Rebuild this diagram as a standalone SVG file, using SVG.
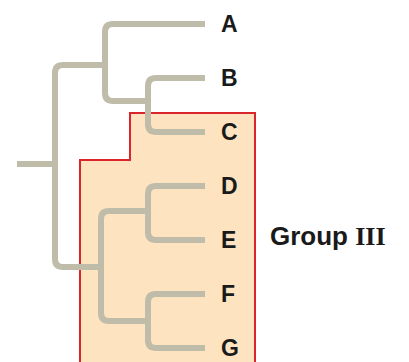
<svg xmlns="http://www.w3.org/2000/svg" width="409" height="362" viewBox="0 0 409 362">
<style>
.br{fill:none;stroke:#bfbcaa;stroke-width:6;stroke-linejoin:round}
.lb{font-family:"Liberation Sans",Arial,sans-serif;font-weight:bold;font-size:23px;fill:#1a1a1a}
.grp{font-family:"Liberation Sans",Arial,sans-serif;font-weight:bold;font-size:26px;fill:#1a1a1a}
</style>
<rect width="409" height="362" fill="#fff"/>
<g id="group3">
<path d="M80,364 V160 H130 V113 H255 V364" fill="#fde3bf" stroke="#d9262c" stroke-width="2"/>
</g>
<g id="connectors">
<path class="br" d="M17,164 H55"/>
<path class="br" d="M105,65 H63 Q55,65 55,73 V259 Q55,267 63,267 H101"/>
<path class="br" d="M205,24 H113 Q105,24 105,32 V93 Q105,101 113,101 H148"/>
<path class="br" d="M205,78 H156 Q148,78 148,86 V124 Q148,132 156,132 H205"/>
<path class="br" d="M148,211 H109 Q101,211 101,219 V313 Q101,321 109,321 H148"/>
<path class="br" d="M205,186 H156 Q148,186 148,194 V232 Q148,240 156,240 H205"/>
<path class="br" d="M205,294 H156 Q148,294 148,302 V340 Q148,348 156,348 H205"/>
</g>
<g id="A"><text class="lb" x="221" y="32">A</text></g>
<g id="B"><text class="lb" x="221" y="86">B</text></g>
<g id="C"><text class="lb" x="221" y="140">C</text></g>
<g id="D"><text class="lb" x="221" y="194">D</text></g>
<g id="E"><text class="lb" x="221" y="248">E</text></g>
<g id="F"><text class="lb" x="221" y="302">F</text></g>
<g id="G"><text class="lb" x="221" y="356">G</text></g>
<g id="label"><text class="grp" x="270" y="245">Group <tspan font-family="'Liberation Serif',serif">III</tspan></text></g>
</svg>
